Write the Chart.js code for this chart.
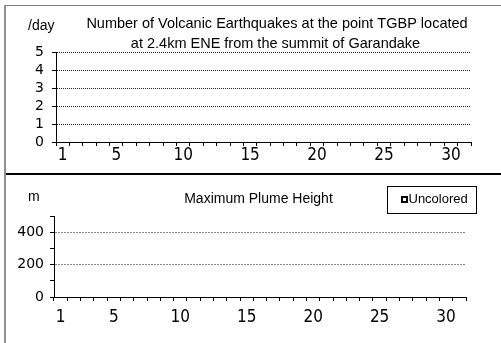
<!DOCTYPE html>
<html><head><meta charset="utf-8">
<script src="https://cdn.jsdelivr.net/npm/chart.js@4.4.1/dist/chart.umd.min.js"></script>
<style>
html,body{margin:0;padding:0;background:#fff;overflow:hidden}
#wrap{position:relative;width:501px;height:343px;background:#fff}
#c1{position:absolute;left:0;top:0}
#c2{position:absolute;left:0;top:175px}
.ln{position:absolute;z-index:2}
</style></head><body>
<div id="wrap">
<canvas id="c1" width="501" height="175"></canvas>
<canvas id="c2" width="501" height="168"></canvas>
<div class="ln" style="left:4px;top:5px;width:497px;height:1px;background:#808080"></div>
<div class="ln" style="left:4px;top:5px;width:2px;height:338px;background:#909090"></div>
<div class="ln" style="left:6px;top:173px;width:495px;height:2px;background:#000"></div>
</div>
<script>
// ---- data ----
const days = ['1','2','3','4','5','6','7','8','9','10','11','12','13','14','15','16','17','18','19','20','21','22','23','24','25','26','27','28','29','30','31'];
const shownDayLabels = ['1','5','10','15','20','25','30'];
const quakeCounts = [0,0,0,0,0,0,0,0,0,0,0,0,0,0,0,0,0,0,0,0,0,0,0,0,0,0,0,0,0,0,0];
const plumeHeights = [null,null,null,null,null,null,null,null,null,null,null,null,null,null,null,null,null,null,null,null,null,null,null,null,null,null,null,null,null,null,null];
const quakeTickLabels = [0,1,2,3,4,5];
const plumeTickLabels = [0,200,400];
const plumeGridValues = [200,400];
const quakeTitle = ['Number of Volcanic Earthquakes at the point TGBP located','at 2.4km ENE from the summit of Garandake'];
const quakeUnit = '/day';
const plumeTitle = 'Maximum Plume Height';
const plumeUnit = 'm';
const plumeSeriesName = 'Uncolored';

// ---- styles ----
const TITLE_FONT = '"Liberation Sans", Arial, sans-serif';
const XTICK_FONT = {family:'"Liberation Sans Narrow", "DejaVu Sans Condensed", "Liberation Sans", sans-serif', size:17};
const YTICK_FONT = {family:'"DejaVu Sans", sans-serif', size:14};

const textPlugin = {
  id:'panelText',
  afterDraw(chart, args, opts){
    const ctx = chart.ctx;
    (opts.items||[]).forEach(it=>{
      ctx.save();
      ctx.font = it.font;
      ctx.fillStyle = '#000';
      ctx.textAlign = it.align||'left';
      ctx.textBaseline = 'alphabetic';
      ctx.fillText(it.text, it.x, it.y);
      ctx.restore();
    });
    if (opts.legend) {
      const L = opts.legend;
      ctx.save();
      ctx.strokeStyle = '#000';
      ctx.lineWidth = 1;
      ctx.strokeRect(L.x + 0.5, L.y + 0.5, L.w, L.h);
      ctx.fillStyle = '#fff';
      ctx.lineWidth = 2;
      ctx.fillRect(L.mx, L.my, L.ms, L.ms);
      ctx.strokeRect(L.mx, L.my, L.ms, L.ms);
      ctx.fillStyle = '#000';
      ctx.font = L.font;
      ctx.textBaseline = 'alphabetic';
      ctx.fillText(chart.data.datasets[0].label, L.tx, L.ty);
      ctx.restore();
    }
  }
};

function xScale(pad){
  return {
    type:'category', offset:true,
    grid:{display:true, drawOnChartArea:false, drawTicks:true, tickLength:4, offset:true, color:'#000', tickColor:'#000'},
    border:{display:true, color:'#000', width:1},
    ticks:{autoSkip:false, maxRotation:0, minRotation:0, padding:pad, color:'#000', font:XTICK_FONT,
      callback:function(v){ const l = this.getLabelForValue(v); return shownDayLabels.includes(l) ? l : ''; }},
  };
}

new Chart(document.getElementById('c1'), {
  type:'bar',
  data:{labels:days, datasets:[{label:'Volcanic Earthquakes', data:quakeCounts, backgroundColor:'#000', borderWidth:0}]},
  options:{
    responsive:false, animation:false, devicePixelRatio:1,
    layout:{padding:{left:0, top:52, right:30, bottom:0}},
    plugins:{legend:{display:false}, tooltip:{enabled:false}, title:{display:false},
      panelText:{items:[
        {text:quakeTitle[0], x:277, y:27.5, align:'center', font:'14.5px '+TITLE_FONT},
        {text:quakeTitle[1], x:275.5, y:48, align:'center', font:'14.5px '+TITLE_FONT},
        {text:quakeUnit, x:28, y:30, font:'14px '+TITLE_FONT}
      ]}},
    scales:{
      x:Object.assign(xScale(-1), {afterFit(s){ s.height = 33; }}),
      y:{min:0, max:5,
        afterFit(s){ s.width = 56; },
        grid:{display:true, color:'#222', tickColor:'#000', tickLength:4, drawTicks:true},
        border:{display:true, color:'#000', width:1, dash:[1,1]},
        ticks:{stepSize:1, autoSkip:false, padding:8, color:'#000', font:YTICK_FONT,
          callback:(v)=> quakeTickLabels.includes(v) ? String(v) : ''}
      }
    }
  },
  plugins:[textPlugin]
});

new Chart(document.getElementById('c2'), {
  type:'bar',
  data:{labels:days, datasets:[{label:plumeSeriesName, data:plumeHeights, backgroundColor:'#fff', borderColor:'#000', borderWidth:1}]},
  options:{
    responsive:false, animation:false, devicePixelRatio:1,
    layout:{padding:{left:0, top:41, right:35, bottom:0}},
    plugins:{legend:{display:false}, tooltip:{enabled:false}, title:{display:false},
      panelText:{items:[
        {text:plumeTitle, x:258.5, y:27.5, align:'center', font:'14px '+TITLE_FONT},
        {text:plumeUnit, x:28, y:26, font:'14px '+TITLE_FONT}
      ],
      legend:{x:387, y:11, w:89, h:27, mx:402, my:22, ms:5, tx:408.5, ty:27.7, font:'13px '+TITLE_FONT}}},
    scales:{
      x:Object.assign(xScale(6), {afterFit(s){ s.height = 46; }}),
      y:{min:0, max:500,
        ticks:{stepSize:100, autoSkip:false, padding:6, color:'#000', font:YTICK_FONT,
          callback:(v)=> plumeTickLabels.includes(v) ? String(v) : ''},
        afterFit(s){ s.width = 54; },
        grid:{display:true, tickColor:'#000', tickLength:4, drawTicks:true,
          color:(c)=> (c.tick && plumeGridValues.includes(c.tick.value)) ? '#888' : 'rgba(0,0,0,0)'},
        border:{display:true, color:'#000', width:1, dash:[2,1]}
      }
    }
  },
  plugins:[textPlugin]
});
</script>
</body></html>
